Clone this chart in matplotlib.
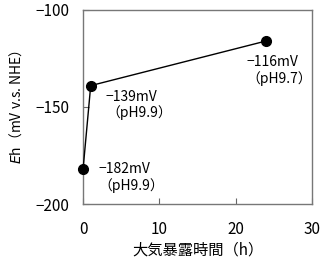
import matplotlib
matplotlib.use("Agg")
import matplotlib.pyplot as plt

plt.rcParams['font.family'] = ['Noto Sans CJK JP', 'DejaVu Sans']
plt.rcParams['axes.unicode_minus'] = True

# データ
hours = [0, 1, 24]
eh = [-182, -139, -116]
labels = ["−182mV\n（pH9.9）", "−139mV\n（pH9.9）", "−116mV\n（pH9.7）"]
offsets = [(11, 5), (11, -3), (-14, -10)]

fig = plt.figure(figsize=(3.22, 2.6), dpi=100)
ax = fig.add_axes([0.258, 0.215, 0.711, 0.747])

ax.plot(hours, eh, color='black', lw=1.0, marker='o', ms=7, zorder=3, clip_on=False)

for x, y, lab, off in zip(hours, eh, labels, offsets):
    ax.annotate(lab, (x, y), xytext=off, textcoords='offset points',
                fontsize=10, va='top', ha='left', linespacing=1.15)

ax.set_xlim(0, 30)
ax.set_ylim(-200, -100)
ax.set_xticks([0, 10, 20, 30])
ax.set_yticks([-200, -150, -100])
ax.set_yticklabels(["−200", "−150", "−100"])
ax.tick_params(direction='in', length=4, width=0.8, labelsize=11, color='#666666')
ax.tick_params(axis='x', pad=12)
ax.tick_params(axis='y', pad=10)
for s in ax.spines.values():
    s.set_color('#777777')
    s.set_linewidth(1.0)

ax.set_xlabel("大気暴露時間（h）", fontsize=11, labelpad=3)
ax.set_ylabel(r"$\mathit{E}$h（mV v.s. NHE）", fontsize=10, labelpad=8)

fig.savefig("out.png", dpi=100)
